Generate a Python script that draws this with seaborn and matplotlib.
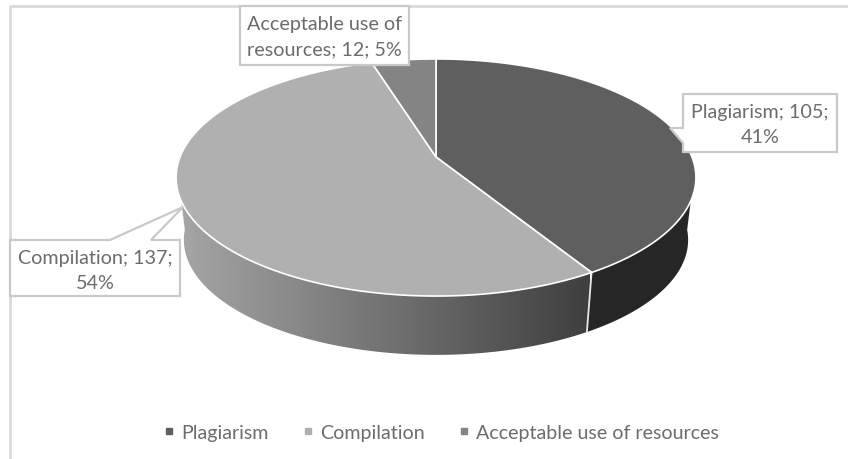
import textwrap

import numpy as np
import seaborn as sns
import matplotlib.pyplot as plt
from matplotlib.lines import Line2D
from matplotlib.patches import Polygon

categories = ['Plagiarism', 'Compilation', 'Acceptable use of resources']
counts = [105, 137, 12]

top_colors = ['#5f5f5f', '#b0b0b0', '#848484']
text_color = '#6c6c6c'
box_color = '#c9c9c9'

sns.set_theme(style='white')
plt.rcParams['font.family'] = ['Lato', 'DejaVu Sans']

fig, ax = plt.subplots(figsize=(8.48, 4.6), dpi=100)
ax.set_position([0, 0, 1, 1])
ax.axis('off')


# tilted disc, slices start at 12 o'clock and go clockwise
def rim(theta, scale=1.0, drop=0.0):
    t = np.radians(theta)
    w = 1 + 0.173 * np.cos(t)
    return np.column_stack([436 + scale * 256 * np.sin(t) / w,
                            158 + drop - scale * 115 * np.cos(t) / w])


def wall(start, end):
    th = np.linspace(start, end, 160)
    return np.vstack([rim(th), rim(th[::-1], 0.97, 63)])


shares = np.array(counts) / sum(counts)
edges = np.concatenate([[0], np.cumsum(shares) * 360])

# side wall: dark flat part for the first slice, gradient for the second
ax.add_patch(Polygon(wall(95, edges[1]), closed=True, fc='#262626', ec='none', zorder=1))
fade = sns.blend_palette(['#a6a6a6', '#3f3f3f'], as_cmap=True)
img = ax.imshow(np.linspace(0, 1, 256)[None, :], cmap=fade, extent=(178, 590, 360, 170),
                aspect='auto', zorder=1)
front = Polygon(wall(edges[1], 265), closed=True, fc='none', ec='none', transform=ax.transData)
ax.add_patch(front)
img.set_clip_path(front)
ax.plot(*np.vstack([rim(edges[1]), rim(edges[1], 0.97, 63)]).T, color='#e8e8e8', lw=1.3, zorder=2)

# top of the disc
for i, color in enumerate(top_colors):
    th = np.linspace(edges[i], edges[i + 1], 200)
    pts = np.vstack([[436, 158], rim(th)])
    ax.add_patch(Polygon(pts, closed=True, fc=color, ec='white', lw=1.2, zorder=3))

ax.set_xlim(0, 848)
ax.set_ylim(460, 0)

# chart frame (only left and top are visible in the crop)
ax.plot([10, 10, 848], [460, 7, 7], color='#d9d9d9', lw=2, zorder=4, clip_on=False)

# data label callouts
boxes = [
    [(683, 95), (837, 95), (837, 153), (683, 153), (683, 144), (670, 129), (683, 129)],
    [(10, 241), (110, 241), (183, 208), (151, 241), (180, 241), (180, 297), (10, 297)],
    [(240, 7), (409, 7), (409, 66), (240, 66)],
]
centers = [(760, 125), (95, 271), (324.5, 37)]
for name, count, share, box, (cx, cy) in zip(categories, counts, shares, boxes, centers):
    ax.add_patch(Polygon(box, closed=True, fc='white', ec=box_color, lw=1.6, zorder=5))
    label = textwrap.fill(f'{name}; {count}; {share * 100:.0f}%', 18)
    ax.text(cx, cy, label, ha='center', va='center', color=text_color, fontsize=14.2,
            linespacing=1.62, zorder=6)

handles = [Line2D([], [], ls='none', marker='s', ms=4.5, color=c) for c in top_colors]
ax.legend(handles, categories, loc='center', bbox_to_anchor=(441, 433.5), ncol=3,
          bbox_transform=ax.transData, frameon=False, fontsize=14.1, labelcolor=text_color,
          handlelength=0.6, handletextpad=0.33, columnspacing=1.7)

sns.despine(ax=ax, left=True, bottom=True)
fig.savefig('out.png', dpi=100)
